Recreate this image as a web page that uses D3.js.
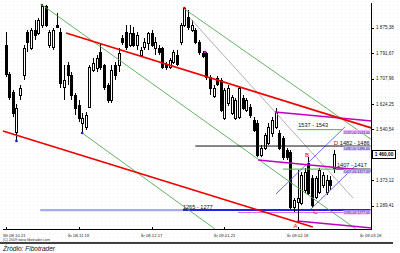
<!DOCTYPE html>
<html><head><meta charset="utf-8">
<script src="https://cdn.jsdelivr.net/npm/d3@7"></script>
<style>body{margin:0;background:#fff}svg{display:block}</style>
</head><body>
<svg id="c" width="400" height="253"></svg>
<script>
// ---- data ----
const dateLabels = ["Wt 08.10.21","Śr 08.11.19","Śr 08.12.17","Śr 09.01.21","Śr 09.02.18","Śr 09.03.18"];
const dateIdx = [0,20,40,60,80,100];
const open  = [1819,1723,1664,1532,1654,1720,1862,1809,1868,1859,1885,1948,1819,1812,1885,1862,1681,1753,1720,1654,1621,1562,1549,1615,1737,1743,1796,1753,1687,1638,1753,1753,1842,1862,1819,1859,1819,1786,1812,1826,1859,1809,1809,1809,1756,1747,1763,1786,1829,1885,1911,1868,1868,1829,1793,1793,1714,1651,1710,1704,1578,1628,1595,1578,1582,1644,1605,1615,1572,1562,1457,1480,1496,1529,1549,1529,1513,1473,1466,1285,1302,1298,1341,1430,1381,1318,1335,1358,1335,1374,1414];
const high  = [1862,1730,1671,1625,1687,1819,1868,1875,1901,1908,1951,1951,1868,1875,1925,1875,1753,1763,1730,1661,1638,1595,1598,1753,1776,1786,1826,1756,1694,1753,1763,1809,1852,1885,1885,1878,1862,1812,1842,1862,1868,1845,1819,1812,1763,1776,1803,1803,1892,1941,1934,1901,1875,1836,1799,1796,1720,1687,1717,1710,1677,1687,1654,1644,1684,1654,1644,1625,1582,1572,1489,1529,1562,1582,1611,1539,1519,1480,1473,1315,1407,1400,1414,1450,1391,1387,1414,1400,1391,1387,1473];
const low   = [1714,1638,1582,1503,1638,1704,1796,1803,1836,1852,1875,1878,1809,1803,1875,1677,1638,1687,1638,1588,1565,1529,1539,1611,1730,1730,1737,1671,1628,1628,1704,1730,1819,1803,1812,1812,1803,1780,1803,1803,1812,1786,1786,1740,1737,1740,1756,1750,1819,1878,1868,1862,1822,1786,1776,1704,1654,1644,1684,1598,1572,1618,1588,1572,1575,1605,1598,1578,1532,1450,1450,1473,1489,1516,1542,1473,1440,1440,1279,1269,1236,1292,1331,1325,1282,1312,1328,1348,1325,1341,1397];
const close = [1723,1648,1595,1611,1677,1809,1829,1868,1852,1901,1948,1885,1862,1868,1878,1694,1704,1720,1654,1611,1578,1578,1588,1747,1760,1776,1747,1681,1638,1737,1720,1793,1829,1812,1859,1819,1852,1803,1829,1859,1819,1829,1796,1747,1747,1770,1796,1756,1885,1941,1878,1885,1829,1796,1783,1714,1677,1677,1691,1605,1671,1677,1648,1638,1677,1611,1638,1588,1539,1457,1480,1522,1549,1572,1598,1480,1450,1450,1285,1308,1315,1391,1400,1331,1292,1381,1407,1391,1374,1358,1460];
const priceTicks = [1875.38,1791.67,1707.96,1624.25,1540.54,1373.12,1289.41];

// trend lines: [index1, price1, index2, price2]
const redLines     = [[16.6,1858.5,100.4,1545.4],[-0.7,1535.6,84.2,1219.2]];
const greenLines   = [[10,1951,96,1212.6],[21,1529,57.4,1212.6],[49,1938,100.4,1506]];
const greyLines    = [[50.5,1908,95.2,1315]];
const magentaLines = [[73.8,1598,100.4,1568.5],[69.2,1440,100.4,1404],[79.9,1239,100.4,1216]];
const blueDiagLines= [[74.1,1328,93,1549],[83.7,1278.5,95.8,1420]];

// Fibonacci zones
const zoneLabels = ["1537 - 1543","1482 - 1486","1407 - 1417","1265 - 1277"];
const zoneLo = [1537,1482,1407,1265];
const zoneHi = [1543,1486,1417,1277];
const zoneLevel = [1540,1486,1410,1275];
const zoneLabelIdx = [80.2,91.6,90.8,48.6];
// level segments: [price, index from, index to]
const greenLevels = [[1540,80,92.3],[1410,76,90.5]];
const blackLevels = [[1486,52,100],[1410,90.5,100]];
const lightBlueLevels = [[1275,9.5,48.6]];
const blueLevels = [[1275,48.6,100]];
const pinkLevels = [[1267,63.7,100]];

// wave points
const pointLabels = ["A","B","C","D"];
const pointIdx = [79.45,82.6,84.9,90.5];
const pointPrice = [1215.9,1449.9,1262,1489];
const redDots = [[49,1941]], blueDots = [[3,1503],[21,1529]], magentaDots = [[54.7,1796]], greenDots = [[10,1951]];

// ---- drawing ----
const svg = d3.select('#c');
const x = d3.scaleLinear().domain([0,100]).range([5.5,370.5]);
const y = d3.scaleLinear().domain([1212.6,1967.3]).range([229,0]);
const FONT = "'Liberation Sans', Arial, sans-serif";
const fmt = v => { const s = v.toFixed(2).split('.'); const a = s[0]; return a.slice(0,-3)+' '+a.slice(-3)+','+s[1]; };

const defs = svg.append('defs');
const pat = defs.append('pattern').attr('id','dots').attr('width',4).attr('height',4).attr('patternUnits','userSpaceOnUse');
pat.append('rect').attr('width',4).attr('height',4).attr('fill','#fff');
pat.append('rect').attr('x',1).attr('y',1).attr('width',1).attr('height',1).attr('fill','#e9e9e9');
svg.append('rect').attr('width',400).attr('height',242).attr('fill','url(#dots)');

// horizontal levels behind
function levels(arr, color, w){
  svg.append('g').selectAll('line').data(arr).join('line')
    .attr('x1',d=>x(d[1])).attr('x2',d=>x(d[2]))
    .attr('y1',d=>y(d[0])).attr('y2',d=>y(d[0]))
    .attr('stroke',color).attr('stroke-width',w);
}
levels(lightBlueLevels,'#a9a9f2',2.2);
levels(blueLevels,'#2323e6',2);
levels(pinkLevels,'#e070e0',1);

// candles
const N = open.length;
const cg = svg.append('g').attr('shape-rendering','crispEdges');
const idx = d3.range(N);
cg.selectAll('line.w').data(idx).join('line').attr('class','w')
  .attr('x1',i=>Math.round(x(i))+0.5).attr('x2',i=>Math.round(x(i))+0.5)
  .attr('y1',i=>Math.round(y(high[i]))).attr('y2',i=>Math.round(y(low[i])))
  .attr('stroke','#000').attr('stroke-width',1);
cg.selectAll('rect.b').data(idx).join('rect').attr('class','b')
  .attr('x',i=>Math.round(x(i))-0.5).attr('width',2)
  .attr('y',i=>Math.round(y(Math.max(open[i],close[i])))+0.5)
  .attr('height',i=>Math.max(Math.round(y(Math.min(open[i],close[i])))-Math.round(y(Math.max(open[i],close[i]))),1))
  .attr('fill',i=>close[i]>=open[i]?'#fff':'#000')
  .attr('stroke','#000').attr('stroke-width',1);

// trend lines
function tl(arr,color,w){
  svg.append('g').selectAll('line').data(arr).join('line')
    .attr('x1',d=>x(d[0])).attr('y1',d=>y(d[1])).attr('x2',d=>x(d[2])).attr('y2',d=>y(d[3]))
    .attr('stroke',color).attr('stroke-width',w);
}
tl(greyLines,'#a8a8a8',0.9);
tl(greenLines,'#55aa55',0.9);
tl(blueDiagLines,'#5a5aff',0.9);
levels(greenLevels,'#55aa55',1);
levels(blackLevels,'#111',1);
tl(magentaLines,'#c000c0',1.6);
tl(redLines,'#f00000',1.8);

// zone right-side boxes
const zb = svg.append('g');
zb.selectAll('rect').data(d3.range(zoneLo.length)).join('rect')
  .attr('x',x(92.5)).attr('width',x(100)-x(92.5))
  .attr('y',i=>y(zoneLevel[i])+0.3).attr('height',4.2)
  .attr('fill',(i)=> (i===0||i===3)?'#f2b8f2':'#d8c8f4');
zb.selectAll('text').data(d3.range(zoneLo.length)).join('text')
  .attr('x',x(92.7)).attr('y',i=>y(zoneLevel[i])+3.9)
  .attr('font-family',FONT).attr('font-size',3.4).attr('fill','#1a1a9a')
  .attr('textLength',x(99.8)-x(92.7)).attr('lengthAdjust','spacingAndGlyphs')
  .text(i=>zoneLo[i]+',00  '+zoneHi[i]+',00');

// zone labels
const zlOff = [-2.2,-1.2,-2.6,-1.5];
svg.append('g').selectAll('text').data(d3.range(zoneLabels.length)).join('text')
  .attr('x',i=>x(zoneLabelIdx[i])).attr('y',i=>y(zoneLevel[i])+zlOff[i])
  .attr('font-family',FONT).attr('font-size',5.6).attr('fill','#111')
  .text(i=>zoneLabels[i]);

// dots
function dots(arr,color){
  svg.append('g').selectAll('circle').data(arr).join('circle')
    .attr('cx',d=>x(d[0])).attr('cy',d=>y(d[1])).attr('r',1.3).attr('fill',color);
}
dots(redDots,'#e00000'); dots(blueDots,'#1a1acc'); dots(magentaDots,'#cc00cc'); dots(greenDots,'#2a6a2a');

// point letters
svg.append('g').selectAll('text').data(pointLabels).join('text')
  .attr('x',(d,i)=>x(pointIdx[i])).attr('y',(d,i)=>y(pointPrice[i]))
  .attr('text-anchor','middle').attr('font-family',FONT).attr('font-size',6).attr('fill','#e00000')
  .text(d=>d);

// right axis
const ax = svg.append('g').attr('shape-rendering','crispEdges');
ax.append('line').attr('x1',371.5).attr('x2',371.5).attr('y1',3).attr('y2',229.5).attr('stroke','#000');
ax.append('line').attr('x1',3).attr('x2',371.5).attr('y1',229.5).attr('y2',229.5).attr('stroke','#000');
ax.selectAll('line.t').data(priceTicks).join('line').attr('class','t')
  .attr('x1',371.5).attr('x2',374).attr('y1',d=>Math.round(y(d))+0.5).attr('y2',d=>Math.round(y(d))+0.5).attr('stroke','#000');
ax.selectAll('text.t').data(priceTicks).join('text').attr('class','t')
  .attr('x',376).attr('y',d=>y(d)+1.6).attr('font-family',FONT).attr('font-size',4.6).attr('fill','#222')
  .text(d=>fmt(d));
ax.selectAll('line.d').data(dateIdx).join('line').attr('class','d')
  .attr('x1',d=>Math.round(x(d))+0.5).attr('x2',d=>Math.round(x(d))+0.5).attr('y1',226.5).attr('y2',229.5).attr('stroke','#000');
ax.selectAll('text.d').data(dateLabels).join('text').attr('class','d')
  .attr('x',(d,i)=>i===0?3:x(dateIdx[i])).attr('y',237)
  .attr('text-anchor',(d,i)=>i===0?'start':'middle')
  .attr('font-family',FONT).attr('font-size',4.2).attr('fill','#222')
  .text(d=>d);

// current price box
const last = close[N-1];
svg.append('rect').attr('x',372.5).attr('y',Math.round(y(last))-3.5).attr('width',23).attr('height',8)
  .attr('fill','#fff').attr('stroke','#000').attr('stroke-width',1);
svg.append('text').attr('x',384).attr('y',y(last)+2).attr('text-anchor','middle')
  .attr('font-family',FONT).attr('font-size',4.8).attr('font-weight','bold').attr('fill','#000').text(fmt(last));

// footer
svg.append('text').attr('x',3).attr('y',240.5).attr('font-family',FONT).attr('font-size',3.4).attr('fill','#333')
  .attr('textLength',47).attr('lengthAdjust','spacingAndGlyphs').text('(C) 2009 www.fibotrader.com');
svg.append('line').attr('x1',0).attr('x2',393).attr('y1',243).attr('y2',243).attr('stroke','#000').attr('stroke-width',1.4);
svg.append('text').attr('x',3).attr('y',251).attr('font-family',FONT).attr('font-size',7.6).attr('font-style','italic')
  .attr('fill','#111').attr('textLength',52).attr('lengthAdjust','spacingAndGlyphs').text('Źródło: Fibotrader');
</script>
</body></html>
